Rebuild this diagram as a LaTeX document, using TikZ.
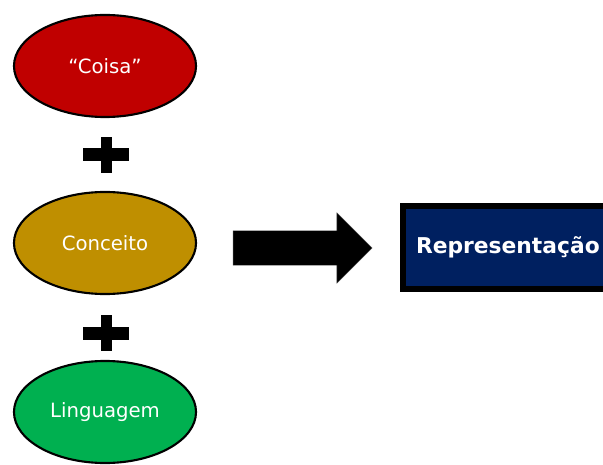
\documentclass[tikz,border=0pt]{standalone}
\usepackage{fontspec}
\setmainfont{DejaVu Sans}
\usetikzlibrary{shapes.geometric,shapes.arrows}
\definecolor{rosso}{HTML}{C00000}
\definecolor{oro}{HTML}{BF8F00}
\definecolor{verde}{HTML}{00B050}
\definecolor{blu}{HTML}{002060}
\begin{document}
\begin{tikzpicture}[x=0.025cm,y=-0.025cm,
	bolla/.style={ellipse,draw=black,line width=1.5pt,minimum width=4.55cm,minimum height=2.55cm,inner sep=0pt,text=white,font=\fontsize{14}{16}\selectfont}]
	\useasboundingbox (0,0) rectangle (603,465);
	\clip (0,0) rectangle (603,465);
	\node[bolla,fill=rosso] (coisa) at (105,66) {“Coisa”};
	\node[bolla,fill=oro] (conceito) at (105,243) {Conceito};
	\node[bolla,fill=verde] (linguagem) at (105,412) {Linguagem};
	% segni piu
	\foreach \y in {155,333} {
		\fill (83,\y-6.5) rectangle (129,\y+6.5);
		\fill (100.5,\y-18) rectangle (112,\y+18);
	}
	% freccia e riquadro
	\node[single arrow,fill=black,draw=black!70,line width=0.3pt,inner xsep=0pt,inner ysep=0.425cm,minimum height=3.475cm,single arrow head extend=0.45cm,single arrow tip angle=90] (freccia) at (294,248) {};
	\node[draw=black,line width=4.3pt,fill=blu,anchor=west,text width=5.1cm,align=left,inner xsep=0.325cm,minimum height=2.075cm,text=white,font=\bfseries\fontsize{15.5}{18}\selectfont] (rappr) at (400,247.5) {\raisebox{2pt}{Representação}};
\end{tikzpicture}
\end{document}
